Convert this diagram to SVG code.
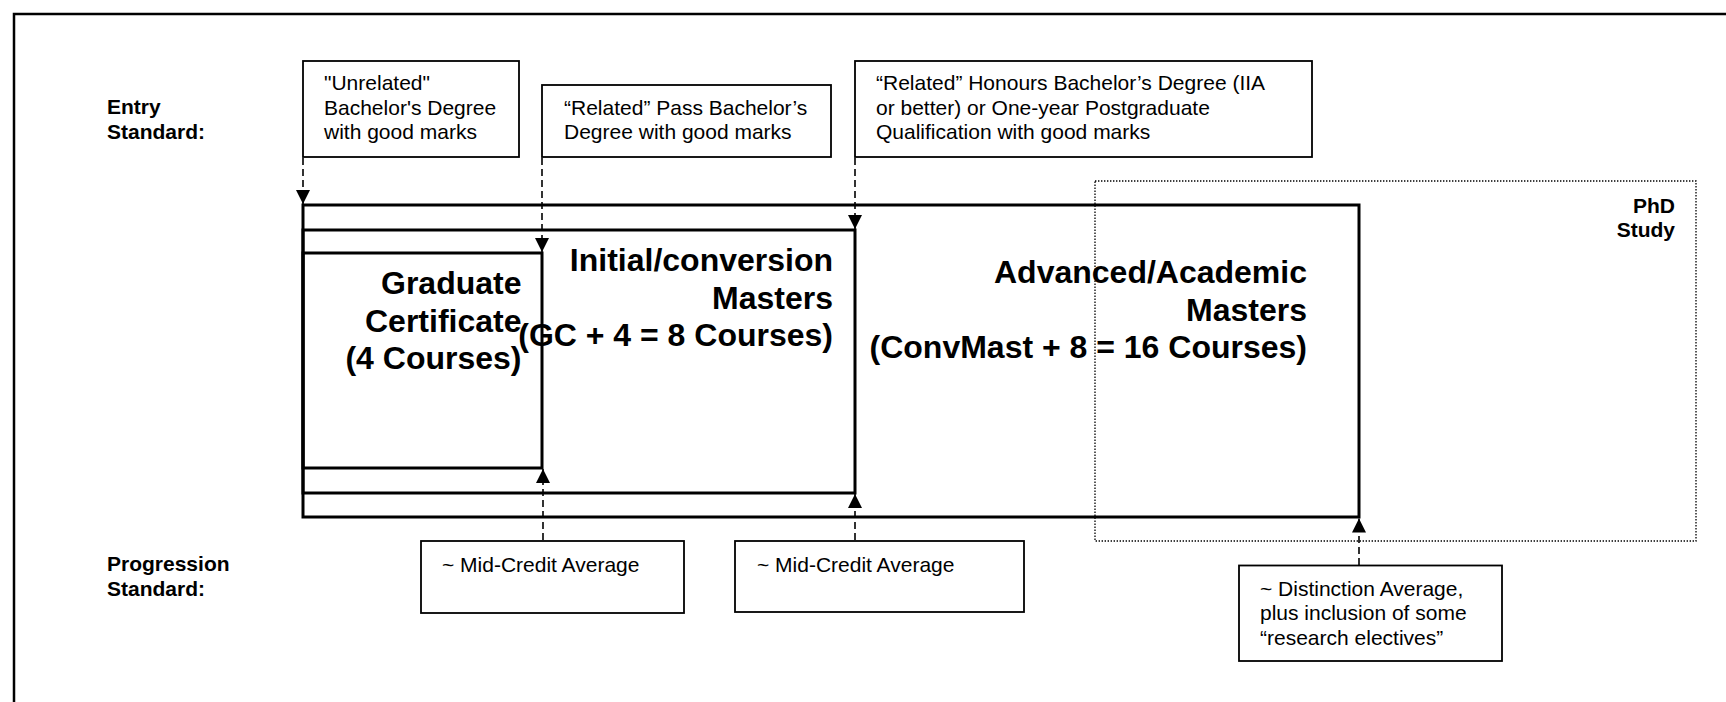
<svg xmlns="http://www.w3.org/2000/svg" width="1726" height="702" viewBox="0 0 1726 702">
<style>
  .lbl{font-family:"Liberation Sans",Arial,sans-serif;font-size:21px;font-weight:bold;fill:#000}
  .txt{font-family:"Liberation Sans",Arial,sans-serif;font-size:21px;fill:#000}
  .big{font-family:"Liberation Sans",Arial,sans-serif;font-size:32px;font-weight:bold;fill:#000;text-anchor:end}
  .box{fill:#fff;stroke:#000;stroke-width:1.8}
  .stage{fill:none;stroke:#000;stroke-width:3}
  .dash{fill:none;stroke:#000;stroke-width:1.6;stroke-dasharray:7 4}
  .dot{fill:none;stroke:#000;stroke-width:1.3;stroke-dasharray:1.4 1.6}
</style>
<defs>
  <marker id="ah" viewBox="0 0 14 14" refX="14" refY="7" markerWidth="14" markerHeight="14" markerUnits="userSpaceOnUse" orient="auto">
    <path d="M0,0 L14,7 L0,14 Z" fill="#000"/>
  </marker>
</defs>
<rect width="1726" height="702" fill="#fff"/>
<rect id="frame" x="14" y="14" width="1760" height="760" fill="none" stroke="#000" stroke-width="2.5"/>

<g id="labels">
  <text class="lbl" x="107" y="114">Entry</text>
  <text class="lbl" x="107" y="138.5">Standard:</text>
  <text class="lbl" x="107" y="571">Progression</text>
  <text class="lbl" x="107" y="596">Standard:</text>
</g>

<g id="phd">
  <rect class="dot" x="1095" y="181" width="601" height="360"/>
  <text class="lbl" x="1675" y="212.5" text-anchor="end">PhD</text>
  <text class="lbl" x="1675" y="236.5" text-anchor="end">Study</text>
</g>

<g id="advanced">
  <rect class="stage" x="303" y="205" width="1056" height="312"/>
  <text class="big" x="1307" y="283">Advanced/Academic</text>
  <text class="big" x="1307" y="320.5">Masters</text>
  <text class="big" x="1307" y="358">(ConvMast + 8 = 16 Courses)</text>
</g>

<g id="initial">
  <rect class="stage" x="303" y="230" width="552" height="263"/>
  <text class="big" x="833" y="271">Initial/conversion</text>
  <text class="big" x="833" y="308.5">Masters</text>
  <text class="big" x="833" y="346">(GC + 4 = 8 Courses)</text>
</g>

<g id="gc">
  <rect class="stage" x="303" y="253" width="239" height="215"/>
  <text class="big" x="521.5" y="294">Graduate</text>
  <text class="big" x="521.5" y="331.5">Certificate</text>
  <text class="big" x="521.5" y="369">(4 Courses)</text>
</g>

<g id="entry1">
  <rect class="box" x="303" y="61" width="216" height="96"/>
  <text class="txt" x="324" y="90">"Unrelated"</text>
  <text class="txt" x="324" y="114.5">Bachelor's Degree</text>
  <text class="txt" x="324" y="139">with good marks</text>
</g>

<g id="entry2">
  <rect class="box" x="542" y="85" width="289" height="72"/>
  <text class="txt" x="564" y="114.5">“Related” Pass Bachelor’s</text>
  <text class="txt" x="564" y="139">Degree with good marks</text>
</g>

<g id="entry3">
  <rect class="box" x="855" y="61" width="457" height="96"/>
  <text class="txt" x="876" y="90">“Related” Honours Bachelor’s Degree (IIA</text>
  <text class="txt" x="876" y="114.5">or better) or One-year Postgraduate</text>
  <text class="txt" x="876" y="139">Qualification with good marks</text>
</g>

<g id="prog1">
  <rect class="box" x="421" y="541" width="263" height="72"/>
  <text class="txt" x="442" y="571.5">~ Mid-Credit Average</text>
</g>

<g id="prog2">
  <rect class="box" x="735" y="541" width="289" height="71"/>
  <text class="txt" x="757" y="571.5">~ Mid-Credit Average</text>
</g>

<g id="prog3">
  <rect class="box" x="1239" y="565.5" width="263" height="95.5"/>
  <text class="txt" x="1260" y="596">~ Distinction Average,</text>
  <text class="txt" x="1260" y="620">plus inclusion of some</text>
  <text class="txt" x="1260" y="644.5">“research electives”</text>
</g>

<g id="connectors">
  <line class="dash" x1="303" y1="158" x2="303" y2="204" marker-end="url(#ah)"/>
  <line class="dash" x1="542" y1="158" x2="542" y2="252" marker-end="url(#ah)"/>
  <line class="dash" x1="855" y1="158" x2="855" y2="229" marker-end="url(#ah)"/>
  <line class="dash" x1="543" y1="540" x2="543" y2="469" marker-end="url(#ah)"/>
  <line class="dash" x1="855" y1="540" x2="855" y2="494" marker-end="url(#ah)"/>
  <line class="dash" x1="1359" y1="565" x2="1359" y2="518.5" marker-end="url(#ah)"/>
</g>
</svg>
